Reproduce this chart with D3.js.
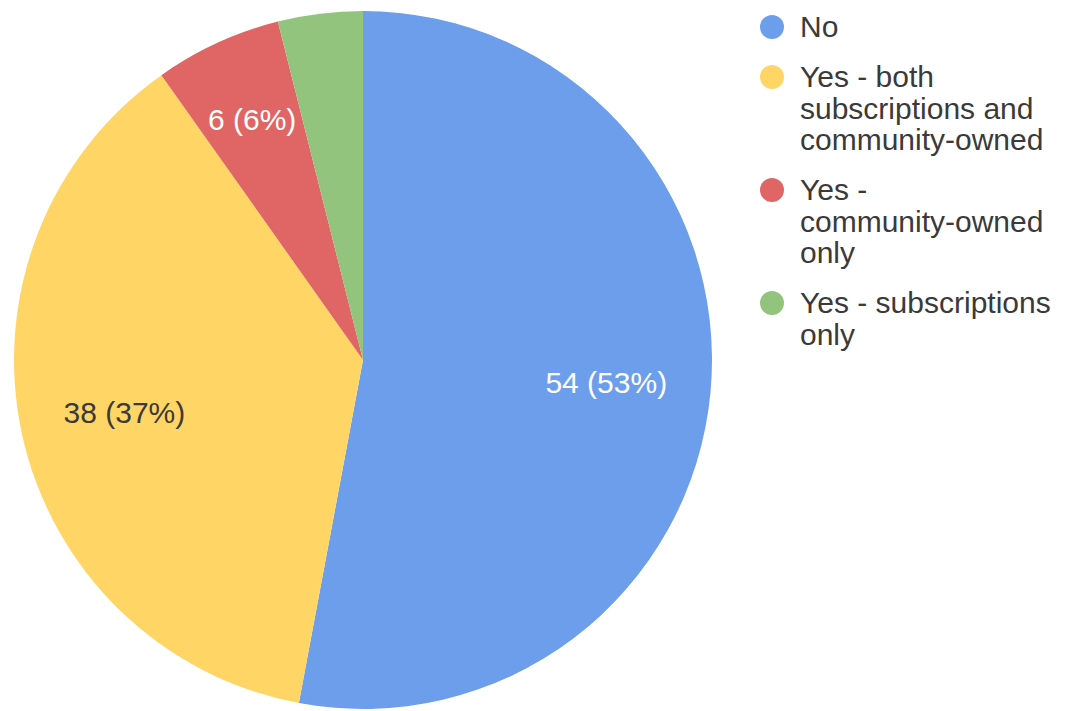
<!DOCTYPE html>
<html>
<head>
<meta charset="utf-8">
<script src="https://cdn.jsdelivr.net/npm/d3@7/dist/d3.min.js"></script>
<style>
  html, body { margin: 0; padding: 0; background: #ffffff; }
  svg { display: block; font-family: "Liberation Sans", Arial, Helvetica, sans-serif; }
</style>
</head>
<body>
<svg id="chart" width="1066" height="711"></svg>
<script>
// Survey answers, in drawing order (clockwise from 12 o'clock)
const categories = ["No", "Yes - both subscriptions and community-owned", "Yes - community-owned only", "Yes - subscriptions only"];
const values = [54, 38, 6, 4];
const colors = ["#6d9eeb", "#ffd666", "#e06666", "#93c47d"];
const labelColors = ["#ffffff", "#3a3a3a", "#ffffff", "#ffffff"];
// Legend text, wrapped into lines
const legendLines = [
  ["No"],
  ["Yes - both", "subscriptions and", "community-owned"],
  ["Yes -", "community-owned", "only"],
  ["Yes - subscriptions", "only"]
];

const svg = d3.select("#chart");
const cx = 363, cy = 360, R = 349;
const total = d3.sum(values);

const pie = d3.pie().sort(null).value(d => d)(values);
const arc = d3.arc().innerRadius(0).outerRadius(R);

const g = svg.append("g").attr("transform", `translate(${cx},${cy})`);

g.selectAll("path.slice")
  .data(pie)
  .join("path")
  .attr("class", "slice")
  .attr("d", arc)
  .attr("fill", (d, i) => colors[i]);

// Value labels: thin slices get their label pushed a little further out,
// slices too thin to hold a label are left blank
function labelPos(d) {
  const share = d.data / total;
  const r = share < 0.1 ? R * 0.76 : R * 0.70;
  return d3.arc().innerRadius(r).outerRadius(r).centroid(d);
}

g.selectAll("text.val")
  .data(pie.filter(d => d.data / total >= 0.05))
  .join("text")
  .attr("class", "val")
  .attr("transform", d => `translate(${labelPos(d)})`)
  .attr("text-anchor", "middle")
  .attr("dy", "0.36em")
  .attr("font-size", 30)
  .attr("fill", d => labelColors[d.index])
  .text(d => `${d.data} (${Math.round(d.data / total * 100)}%)`);

// Legend
const legend = svg.append("g").attr("transform", "translate(772,37)");
let y = 0;
legendLines.forEach((lines, i) => {
  const item = legend.append("g").attr("transform", `translate(0,${y})`);
  item.append("circle").attr("cy", -10).attr("r", 12).attr("fill", colors[i]);
  const t = item.append("text")
    .attr("x", 28)
    .attr("font-size", 30)
    .attr("fill", "#3a3a3a");
  lines.forEach((ln, j) => {
    t.append("tspan")
      .attr("x", 28)
      .attr("y", j * 31.5)
      .text(ln);
  });
  y += (lines.length - 1) * 31.5 + 50;
});
</script>
</body>
</html>
